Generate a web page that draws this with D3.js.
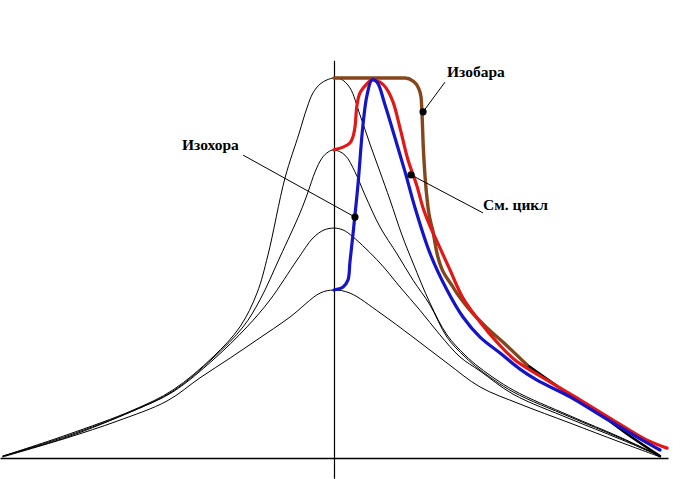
<!DOCTYPE html>
<html>
<head>
<meta charset="utf-8">
<script src="https://cdn.jsdelivr.net/npm/d3@7"></script>
<style>
  html, body { margin: 0; padding: 0; background: #fff; }
  svg { display: block; }
  .label { font-family: 'Liberation Serif', 'Times New Roman', serif; font-weight: bold; font-size: 15.5px; fill: #000; }
</style>
</head>
<body>
<svg id="chart" width="690" height="479"></svg>
<script>
// crank angle (deg from TDC), pressure (% of max)
const motoring100 = [
  [-178.4, 0.5], [-143.9, 6.1], [-108.3, 12.6], [-86.8, 17.9], [-65.2, 26.6], [-50.7, 34.5],
  [-41.5, 43.4], [-35.6, 53.4], [-26.4, 73.7], [-18.9, 85.3], [-14.6, 92.1], [-11.3, 96.1],
  [-7.5, 98.4], [-3.8, 99.5], [0, 100], [3.8, 99.7], [8.6, 97.4], [14.0, 90.3], [19.4, 82.6],
  [24.8, 75.3], [30.2, 67.9], [36.6, 58.7], [42.6, 51.3], [51.7, 40.8], [60.9, 32.4],
  [70.6, 27.1], [78.7, 23.7], [96.5, 17.9], [127.2, 11.1], [154.1, 5.5], [175.7, 0.5],
]
const motoring81 = [
  [-178.4, 0.5], [-143.9, 5.8], [-108.3, 12.4], [-86.8, 17.6], [-65.2, 26.3], [-49.0, 34.5],
  [-39.9, 41.6], [-29.1, 52.9], [-18.3, 64.5], [-14.0, 70.0], [-10.2, 75.3], [-6.5, 78.9],
  [-3.2, 80.5], [0, 81.1], [5.9, 79.7], [11.3, 75.3], [16.7, 69.2], [24.8, 60.8], [34.0, 53.7],
  [42.6, 46.8], [51.7, 40.3], [60.9, 31.8], [70.6, 26.6], [78.7, 23.2], [96.5, 17.4],
  [127.2, 10.8], [154.1, 5.3], [175.7, 0.5],
]
const motoring60 = [
  [-178.4, 0.5], [-143.9, 5.5], [-108.3, 12.4], [-86.8, 17.4], [-65.2, 25.8], [-46.9, 34.5],
  [-34.5, 41.6], [-19.9, 52.1], [-11.3, 57.9], [-5.4, 60.0], [0, 60.5], [4.9, 60.0],
  [10.2, 58.2], [24.8, 51.3], [35.6, 45.0], [46.3, 38.9], [57.1, 32.4], [67.9, 26.6],
  [78.7, 22.9], [96.5, 16.8], [127.2, 10.3], [154.1, 5.0], [175.7, 0.5],
]
const motoring44 = [
  [-178.4, 0.3], [-143.9, 5.3], [-116.9, 9.7], [-90.0, 15.0], [-72.2, 21.1], [-56.0, 26.3],
  [-41.5, 31.1], [-23.7, 37.1], [-7.5, 43.4], [0, 44.2], [8.6, 43.4], [24.8, 38.2],
  [42.6, 31.8], [60.9, 25.0], [78.7, 18.7], [100.2, 14.2], [127.2, 9.2], [154.1, 4.2], [175.7, 0.3],
]
const isochore = [
  [0, 44.2], [4.9, 45.0], [7.5, 46.8], [8.6, 51.6], [10.2, 58.7], [12.9, 71.8], [15.6, 87.6],
  [17.8, 95.5], [20.5, 99.5], [23.2, 98.9], [27.5, 92.9], [32.9, 84.2], [38.3, 75.3],
  [43.7, 65.8], [51.7, 53.9], [60.9, 44.2], [69.5, 37.1], [78.7, 31.8], [89.5, 27.6],
  [100.2, 23.4], [109.4, 20.5], [127.2, 16.1], [145.0, 10.8], [163.3, 5.5], [175.7, 2.1],
]
const mixedCycle = [
  [0, 81.1], [4.9, 81.8], [8.6, 82.9], [10.2, 84.5], [11.3, 87.1], [12.4, 92.9], [14.0, 96.1],
  [17.2, 98.2], [20.5, 99.5], [24.8, 98.9], [28.0, 97.4], [31.8, 93.7], [35.6, 86.8],
  [39.9, 78.4], [44.7, 71.6], [48.0, 65.8], [51.7, 61.1], [57.1, 55.3], [62.5, 49.5],
  [69.5, 42.1], [78.7, 35.8], [87.8, 30.5], [97.5, 25.8], [114.8, 20.5], [132.6, 15.3],
  [150.4, 10.0], [168.7, 4.7], [179.5, 2.6],
]
const isobar = [
  [0, 100], [24.8, 100], [38.3, 100], [42.6, 99.2], [45.3, 97.6], [46.9, 95.0], [47.4, 91.1],
  [48.0, 83.2], [49.0, 74.5], [50.7, 65.8], [53.4, 59.5], [55.5, 53.9], [64.1, 45.0],
  [73.3, 38.9], [82.5, 34.2], [92.2, 30.0], [104.0, 24.5],
]
const isobarTail = [
  [104.0, 24.5], [121.8, 18.4], [141.7, 12.1], [159.5, 5.8], [175.7, 0.5],
]
const annotations = [
  {text: 'Изобара', dot: [48.0, 91.1], end: [59.8, 98.9], at: [60.9, 100.3]},
  {text: 'См. цикл', dot: [41.5, 74.5], end: [80.3, 64.5], at: [80.3, 65.3]},
  {text: 'Изохора', dot: [11.3, 63.4], end: [-49.0, 79.7], at: [-81.9, 81.1]},
]

const svg = d3.select('#chart')
const x = d3.scaleLinear().domain([-180, 180]).range([0, 668])
const y = d3.scaleLinear().domain([0, 100]).range([458, 78])

const smooth = d3.line()
  .x(d => x(d[0]))
  .y(d => y(d[1]))
  .curve(d3.curveCatmullRom.alpha(0.5))

// the isobar has a flat top and a sharp knee, keep it from overshooting
const monotone = d3.line()
  .x(d => x(d[0]))
  .y(d => y(d[1]))
  .curve(d3.curveMonotoneX)

// axes: bare lines through the origin (BDC..BDC, TDC)
svg.append('g')
  .attr('transform', `translate(0,${y(0)})`)
  .call(d3.axisBottom(x).tickValues([]).tickSizeOuter(0))
  .select('.domain').attr('stroke', '#000').attr('stroke-width', 1.4)

const yAxisScale = d3.scaleLinear().domain([-5.3, 104.7]).range([y(-5.3), y(104.7)])
svg.append('g')
  .attr('transform', `translate(${x(0)},0)`)
  .call(d3.axisLeft(yAxisScale).tickValues([]).tickSizeOuter(0))
  .select('.domain').attr('stroke', '#000').attr('stroke-width', 1.2)

const series = [
  {data: motoring100, color: '#000', width: 1, line: smooth},
  {data: motoring81, color: '#000', width: 1, line: smooth},
  {data: motoring60, color: '#000', width: 1, line: smooth},
  {data: motoring44, color: '#000', width: 1, line: smooth},
  {data: isobarTail, color: '#000', width: 2.6, line: smooth},
  {data: isobar, color: '#84461a', width: 3.4, line: monotone},
  {data: mixedCycle, color: '#e41717', width: 3.2, line: smooth},
  {data: isochore, color: '#1414c8', width: 3.2, line: smooth},
]

svg.append('g').selectAll('path')
  .data(series)
  .join('path')
  .attr('d', d => d.line(d.data))
  .attr('fill', 'none')
  .attr('stroke', d => d.color)
  .attr('stroke-width', d => d.width)
  .attr('stroke-linejoin', 'round')
  .attr('stroke-linecap', 'round')

const notes = svg.append('g').selectAll('g')
  .data(annotations)
  .join('g')

notes.append('line')
  .attr('x1', d => x(d.dot[0]))
  .attr('y1', d => y(d.dot[1]))
  .attr('x2', d => x(d.end[0]))
  .attr('y2', d => y(d.end[1]))
  .attr('stroke', '#000')
  .attr('stroke-width', 1)

notes.append('circle')
  .attr('cx', d => x(d.dot[0]))
  .attr('cy', d => y(d.dot[1]))
  .attr('r', 3.6)
  .attr('fill', '#000')

notes.append('text')
  .attr('class', 'label')
  .attr('x', d => x(d.at[0]))
  .attr('y', d => y(d.at[1]))
  .text(d => d.text)
</script>
</body>
</html>
